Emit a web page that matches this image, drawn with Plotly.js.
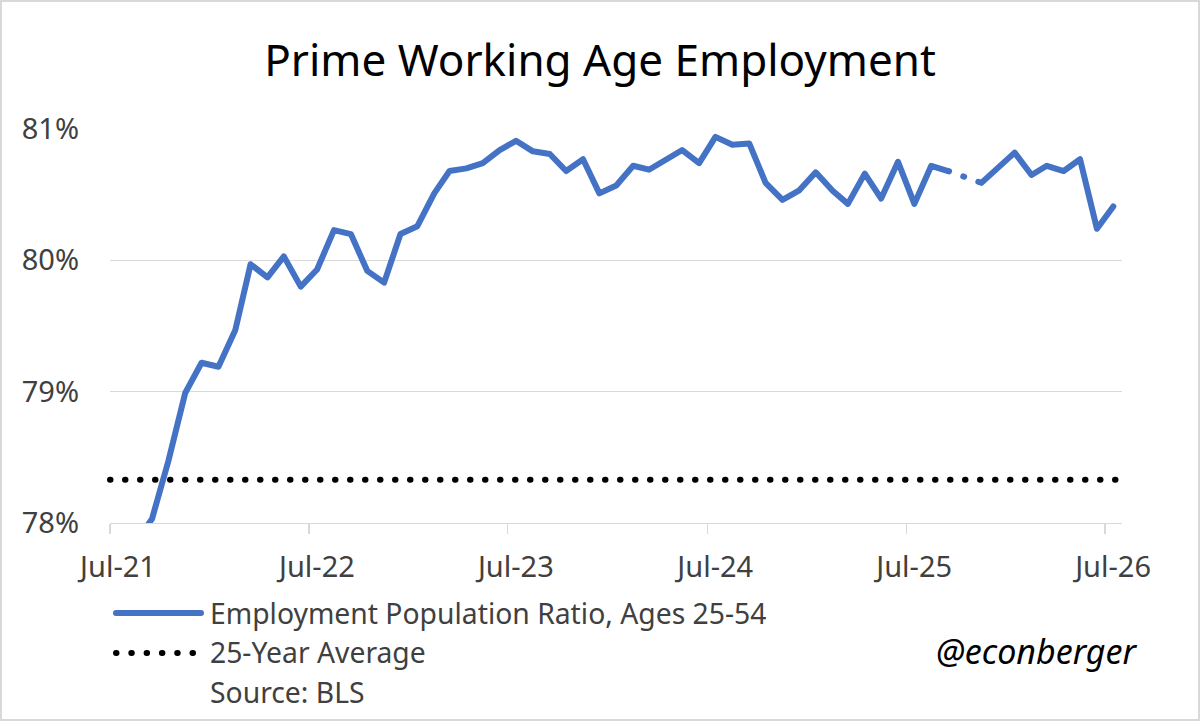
<!DOCTYPE html>
<html>
<head>
<meta charset="utf-8">
<script src="https://cdn.plot.ly/plotly-3.0.1.min.js"></script>
<style>
  html, body { margin: 0; padding: 0; background: #ffffff; }
  #wrap { position: relative; width: 1200px; height: 721px; }
  #chart { width: 1200px; height: 721px; }
  #frame { position: absolute; left: 0; top: 0; width: 1200px; height: 721px; box-sizing: border-box; border: 2px solid #d9d9d9; pointer-events: none; }
  .scatterlayer .js-line { stroke-linecap: round !important; stroke-linejoin: round !important; }
  .shapelayer path { stroke-linecap: round !important; }
</style>
</head>
<body>
<div id="wrap"><div id="chart"></div><div id="frame"></div></div>
<script>
// ---- data ----
const months = [
  '2021-07','2021-08','2021-09','2021-10','2021-11','2021-12',
  '2022-01','2022-02','2022-03','2022-04','2022-05','2022-06',
  '2022-07','2022-08','2022-09','2022-10','2022-11','2022-12',
  '2023-01','2023-02','2023-03','2023-04','2023-05','2023-06',
  '2023-07','2023-08','2023-09','2023-10','2023-11','2023-12',
  '2024-01','2024-02','2024-03','2024-04','2024-05','2024-06',
  '2024-07','2024-08','2024-09','2024-10','2024-11','2024-12',
  '2025-01','2025-02','2025-03','2025-04','2025-05','2025-06',
  '2025-07','2025-08','2025-09','2025-10','2025-11','2025-12',
  '2026-01','2026-02','2026-03','2026-04','2026-05','2026-06',
  '2026-07'
];
const epop = [
  77.70, 77.85, 78.03, 78.47, 78.99, 79.22,
  79.19, 79.47, 79.97, 79.87, 80.03, 79.80,
  79.93, 80.23, 80.20, 79.92, 79.83, 80.20,
  80.26, 80.51, 80.68, 80.70, 80.74, 80.84,
  80.91, 80.83, 80.81, 80.68, 80.77, 80.51,
  80.57, 80.72, 80.69, 80.76, 80.84, 80.74,
  80.94, 80.88, 80.89, 80.59, 80.46, 80.53,
  80.67, 80.53, 80.43, 80.66, 80.47, 80.75,
  80.43, 80.72, 80.68, null,  80.59, 80.70,
  80.82, 80.65, 80.72, 80.68, 80.77, 80.24,
  80.41
];
const avg25 = 78.33;
const tickDates = ['2021-07-01','2022-07-01','2023-07-01','2024-07-01','2025-07-01','2026-07-01'];
const tickLabels = ['Jul-21','Jul-22','Jul-23','Jul-24','Jul-25','Jul-26'];
const yTicks = [78, 79, 80, 81];
const yTickLabels = ['78%','79%','80%','81%'];
const xRange = ['2021-07-01','2026-08-01'];
const seriesName = 'Employment Population Ratio, Ages 25-54';
const avgName = '25-Year Average';
const sourceText = 'Source: BLS';
const handle = '@econberger';
const titleText = 'Prime Working Age Employment';

// ---- styling / layout ----
const BLUE = '#4472C4';
const GRID = '#d9d9d9';
const TXT = '#404040';
const FONT = 'Noto Sans, Open Sans, sans-serif';
const W = 1200, H = 721;
const M = { l: 110, r: 78, t: 129, b: 198 };
const pw = W - M.l - M.r, ph = H - M.t - M.b;
const px = x => (x - M.l) / pw;
const py = y => (H - M.b - y) / ph;

const xMid = months.map(m => m + '-16');

// gap segment (missing month) drawn dotted between neighbours
const gapX = [], gapY = [];
epop.forEach((v, i) => {
  if (v === null && i > 0 && i < epop.length - 1) {
    gapX.push(xMid[i - 1], xMid[i + 1], null);
    gapY.push(epop[i - 1], epop[i + 1], null);
  }
});

const traces = [
  {
    x: gapX, y: gapY, type: 'scatter', mode: 'lines', showlegend: false, hoverinfo: 'skip',
    line: { color: BLUE, width: 6, dash: '1px,15px' }
  },
  {
    x: xMid, y: epop, type: 'scatter', mode: 'lines', name: seriesName, connectgaps: false,
    line: { color: BLUE, width: 6 }
  }
];

const shapes = [
  { type: 'line', xref: 'paper', yref: 'y', x0: 0, x1: 1, y0: avg25, y1: avg25,
    line: { color: '#000000', width: 6, dash: '0.5px,14.5px' }, layer: 'below' },
  // legend samples
  { type: 'line', xref: 'paper', yref: 'paper', x0: px(116), x1: px(201), y0: py(613), y1: py(613),
    line: { color: BLUE, width: 6 } },
  { type: 'line', xref: 'paper', yref: 'paper', x0: px(116), x1: px(193), y0: py(653), y1: py(653),
    line: { color: '#000000', width: 6, dash: '0.5px,14.8px' } }
];

const annotations = [
  { text: seriesName, xref: 'paper', yref: 'paper', x: px(208), y: py(613), xanchor: 'left', yanchor: 'middle',
    showarrow: false, font: { family: FONT, size: 28.3, color: TXT } },
  { text: avgName, xref: 'paper', yref: 'paper', x: px(208), y: py(652), xanchor: 'left', yanchor: 'middle',
    showarrow: false, font: { family: FONT, size: 28.3, color: TXT } },
  { text: sourceText, xref: 'paper', yref: 'paper', x: px(208), y: py(692), xanchor: 'left', yanchor: 'middle',
    showarrow: false, font: { family: FONT, size: 28.3, color: TXT } },
  { text: '<i>' + handle + '</i>', xref: 'paper', yref: 'paper', x: px(1140), y: py(651), xanchor: 'right', yanchor: 'middle',
    showarrow: false, font: { family: FONT, size: 34, color: '#000000' } }
];

const layout = {
  width: W, height: H,
  margin: M,
  paper_bgcolor: '#ffffff', plot_bgcolor: '#ffffff',
  showlegend: false,
  title: { text: titleText, font: { family: FONT, size: 44, color: '#000000' },
           x: 0.5, xanchor: 'center', xref: 'container', y: 1 - 61 / H, yanchor: 'middle', yref: 'container' },
  xaxis: {
    type: 'date', range: xRange,
    tickmode: 'array', tickvals: tickDates, ticktext: tickLabels,
    ticks: 'outside', ticklen: 10, tickwidth: 1.3, tickcolor: GRID,
    ticklabelshift: 8, ticklabelstandoff: 8,
    showgrid: false, zeroline: false,
    showline: true, linecolor: GRID, linewidth: 1.3,
    tickfont: { family: FONT, size: 29, color: TXT }
  },
  yaxis: {
    range: [78, 81], tickmode: 'array', tickvals: yTicks, ticktext: yTickLabels,
    showgrid: true, gridcolor: GRID, gridwidth: 1.3, zeroline: false, showline: false,
    ticks: '', ticklabelstandoff: 30,
    tickfont: { family: FONT, size: 29, color: TXT }
  },
  shapes: shapes,
  annotations: annotations
};

Plotly.newPlot('chart', traces, layout, { displayModeBar: false, staticPlot: true });
</script>
</body>
</html>
